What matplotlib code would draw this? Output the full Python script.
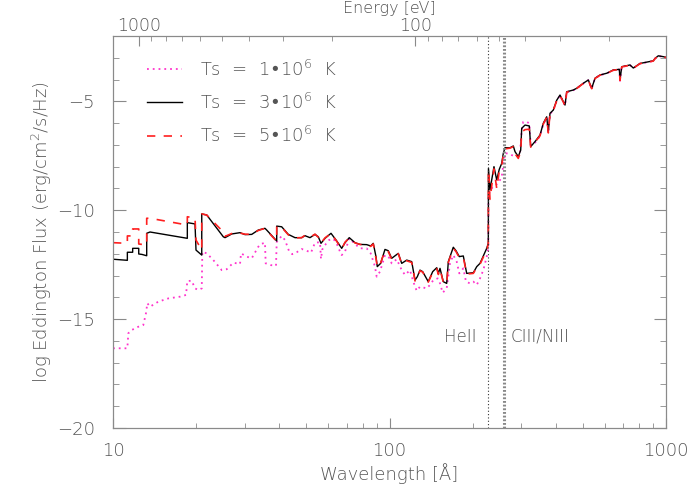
import matplotlib
matplotlib.use('Agg')
import matplotlib.pyplot as plt
from matplotlib.ticker import FuncFormatter, MultipleLocator, NullFormatter

# ---------------- data ----------------
# Ts = 1e6 K (dotted magenta)
lam_1e6 = [10.0, 11.27, 11.36, 11.69, 12.35, 12.87, 13.16, 13.31, 13.61, 14.58, 15.85, 17.47, 18.37,
           18.57, 19.26, 19.80, 20.35, 20.94, 21.04, 21.83, 23.06, 24.73, 25.78, 27.24, 28.80, 29.04,
           30.45, 31.74, 33.53, 34.01, 35.45, 35.66, 37.18, 38.86, 39.09, 40.74, 41.89, 43.30, 44.50,
           46.17, 48.12, 50.17, 52.00, 53.01, 53.77, 56.06, 56.52, 57.14, 58.46, 60.40, 62.63, 64.34,
           66.22, 67.16, 69.05, 71.53, 75.01, 78.19, 82.68, 85.49, 88.61, 89.87, 92.37, 96.30, 100.4,
           101.8, 106.2, 110.7, 113.8, 118.6, 121.9, 125.4, 128.9, 136.3, 140.1, 144.0, 149.4, 152.3,
           155.7, 161.0, 165.5, 170.1, 175.0, 178.8, 184.9, 189.1, 195.5, 201.0, 206.8, 212.5, 218.4,
           224.7, 227.7, 228.0, 230.9, 237.3, 247.5, 254.6, 258.0, 261.7, 268.9, 276.7, 288.4, 296.5,
           300.7, 304.7, 313.5, 320.3, 324.1, 335.9, 350.2, 359.9, 370.3, 375.3, 380.6, 391.2, 402.5,
           413.7, 431.3, 437.5, 462.2, 475.4, 502.3, 523.6, 538.6, 553.7, 577.2, 610.4, 644.9, 677.9,
           681.9, 691.6, 741.0, 761.7, 805.4, 899.6, 912.5, 937.9, 977.8, 1000.0]
flux_1e6 = [-16.34, -16.34, -15.65, -15.50, -15.35, -15.27, -14.73, -14.27, -14.43, -14.20, -14.05, -13.97, -13.89,
            -13.25, -13.24, -13.59, -13.66, -13.59, -11.91, -11.98, -12.29, -12.75, -12.71, -12.41, -12.47, -11.98,
            -12.13, -12.21, -11.68, -11.57, -11.49, -12.44, -12.52, -12.55, -11.46, -11.18, -11.37, -11.87, -12.02,
            -11.93, -11.78, -11.86, -11.95, -11.68, -11.49, -11.47, -12.24, -11.80, -11.60, -11.37, -11.31, -11.52,
            -11.90, -12.06, -11.90, -11.29, -11.55, -11.75, -11.75, -11.98, -12.59, -13.05, -12.82, -12.06, -12.21,
            -12.44, -12.25, -12.75, -12.97, -12.75, -13.28, -13.70, -13.51, -13.59, -13.43, -13.21, -13.13, -13.36,
            -13.79, -13.59, -12.44, -12.06, -12.36, -12.90, -12.67, -13.28, -13.36, -13.28, -13.43, -13.13, -12.75,
            -12.13, -11.75, -9.38, -9.07, -8.92, -8.76, -8.46, -7.92, -7.39, -7.39, -7.47, -7.54, -7.39,
            -6.32, -5.94, -5.94, -6.01, -7.01, -6.90, -6.60, -6.05, -5.75, -6.45, -5.58, -5.42, -4.97,
            -4.73, -5.20, -4.58, -4.49, -4.41, -4.18, -4.03, -4.42, -3.95, -3.80, -3.72, -3.57, -3.54,
            -4.06, -3.42, -3.34, -3.48, -3.27, -3.15, -3.04, -2.92, -2.96, -2.99]

# Ts = 3e6 K (solid black)
lam_3e6 = [10.0, 11.27, 11.27, 11.78, 11.78, 12.39, 12.39, 12.73, 13.24, 13.24, 13.61, 18.57, 18.57,
           19.80, 19.96, 20.94, 20.94, 21.83, 25.06, 25.42, 26.88, 28.80, 30.02, 31.74, 33.53, 35.45,
           35.96, 39.09, 39.09, 40.74, 43.05, 45.52, 48.12, 49.47, 51.57, 53.77, 55.27, 56.52, 58.46,
           61.44, 64.34, 67.16, 69.05, 71.53, 75.01, 78.19, 82.68, 85.49, 87.36, 89.35, 90.32, 92.90,
           96.30, 99.00, 101.8, 107.6, 110.7, 115.4, 120.3, 123.7, 126.1, 128.9, 131.8, 138.1, 143.3,
           148.2, 150.2, 152.3, 156.5, 161.0, 163.2, 170.1, 174.0, 178.8, 184.9, 190.2, 201.0, 206.8,
           212.5, 224.7, 227.7, 228.0, 230.9, 238.7, 244.2, 249.5, 254.6, 258.0, 261.7, 272.8, 280.4,
           284.4, 292.3, 298.2, 300.7, 309.1, 320.3, 324.1, 335.9, 350.2, 359.9, 370.3, 375.3, 380.6,
           391.2, 402.5, 413.7, 431.3, 437.5, 462.2, 475.4, 502.3, 523.6, 538.6, 553.7, 577.2, 610.4,
           644.9, 677.9, 681.9, 691.6, 741.0, 761.7, 805.4, 899.6, 912.5, 937.9, 977.8, 1000.0]
flux_3e6 = [-12.25, -12.30, -11.93, -11.93, -11.75, -11.75, -12.01, -12.03, -12.09, -11.06, -11.00, -11.29, -10.57,
            -10.63, -11.83, -12.06, -10.17, -10.22, -11.22, -11.26, -11.09, -11.03, -11.12, -11.11, -10.91, -10.83,
            -10.91, -11.41, -10.73, -10.76, -11.11, -11.26, -11.26, -11.17, -11.26, -11.11, -11.22, -11.52, -11.29,
            -11.06, -11.40, -11.75, -11.49, -11.26, -11.49, -11.57, -11.58, -11.64, -11.52, -12.13, -12.59, -12.44,
            -11.80, -11.86, -12.21, -11.98, -12.44, -12.29, -12.36, -13.21, -13.05, -12.75, -12.82, -13.28, -12.82,
            -12.64, -12.90, -12.67, -13.28, -13.36, -12.36, -11.70, -11.86, -12.13, -12.10, -12.90, -12.87, -12.59,
            -12.44, -11.75, -11.52, -8.08, -9.07, -8.00, -8.61, -8.12, -7.85, -7.39, -7.13, -7.13, -7.05,
            -7.31, -7.54, -7.24, -6.24, -6.09, -6.13, -7.08, -6.85, -6.55, -6.01, -5.71, -6.40, -5.55,
            -5.40, -4.95, -4.71, -5.17, -4.56, -4.48, -4.40, -4.17, -4.02, -4.40, -3.94, -3.79, -3.71,
            -3.56, -3.53, -4.02, -3.41, -3.33, -3.47, -3.26, -3.14, -3.03, -2.91, -2.95, -2.98]

# Ts = 5e6 K (dashed red)
lam_5e6 = [10.0, 11.27, 11.27, 11.78, 11.78, 12.39, 12.39, 13.24, 13.24, 13.61, 18.57, 18.57,
           19.80, 19.96, 20.94, 20.94, 21.83, 25.06, 25.42, 26.88, 28.80, 30.02, 31.74, 33.53, 35.45,
           35.96, 39.09, 39.09, 40.74, 43.05, 45.52, 48.12, 49.47, 51.57, 53.77, 55.27, 56.52, 58.46,
           61.44, 64.34, 67.16, 69.05, 71.53, 75.01, 78.19, 82.68, 85.49, 87.36, 89.35, 90.32, 92.90,
           96.30, 99.00, 101.8, 107.6, 110.7, 115.4, 120.3, 123.7, 126.1, 128.9, 131.8, 138.1, 143.3,
           148.2, 150.2, 152.3, 156.5, 161.0, 163.2, 170.1, 174.0, 178.8, 184.9, 190.2, 201.0, 206.8,
           212.5, 224.7, 227.7, 228.0, 230.9, 238.7, 244.2, 249.5, 254.6, 258.0, 261.7, 272.8, 280.4,
           284.4, 292.3, 298.2, 300.7, 309.1, 320.3, 324.1, 335.9, 350.2, 359.9, 370.3, 375.3, 380.6,
           391.2, 402.5, 413.7, 431.3, 437.5, 462.2, 475.4, 502.3, 523.6, 538.6, 553.7, 577.2, 610.4,
           644.9, 677.9, 681.9, 691.6, 741.0, 761.7, 805.4, 899.6, 912.5, 937.9, 977.8, 1000.0]
flux_5e6 = [-11.49, -11.52, -11.18, -11.18, -10.86, -10.86, -11.55, -11.60, -10.37, -10.37, -10.68, -10.30,
            -10.36, -11.37, -11.83, -10.17, -10.22, -11.00, -11.20, -11.07, -11.05, -11.10, -11.11, -10.93, -10.83,
            -10.93, -11.43, -10.73, -10.78, -11.13, -11.27, -11.26, -11.15, -11.24, -11.10, -11.24, -11.50, -11.27,
            -11.06, -11.42, -11.78, -11.47, -11.27, -11.50, -11.57, -11.60, -11.66, -11.55, -12.20, -12.62, -12.42,
            -11.84, -11.90, -12.25, -12.00, -12.46, -12.32, -12.40, -13.25, -13.08, -12.78, -12.84, -13.30, -12.86,
            -12.68, -12.95, -12.70, -13.31, -13.38, -12.40, -11.75, -11.90, -12.18, -12.16, -12.93, -12.90, -12.63,
            -12.48, -11.82, -11.56, -8.15, -9.50, -8.10, -9.00, -8.20, -7.95, -7.45, -7.18, -7.15, -7.08,
            -7.40, -7.62, -7.30, -6.40, -6.30, -6.28, -7.10, -6.88, -6.58, -6.05, -5.73, -6.45, -5.57,
            -5.42, -4.97, -4.73, -5.19, -4.58, -4.49, -4.41, -4.18, -4.03, -4.42, -3.95, -3.80, -3.72,
            -3.57, -3.54, -4.04, -3.42, -3.34, -3.48, -3.27, -3.15, -3.04, -2.92, -2.96, -2.99]

series_labels = ['Ts  =  1\u2022$10^6$  K', 'Ts  =  3\u2022$10^6$  K', 'Ts  =  5\u2022$10^6$  K']
edge_lams = [227.8, 259.4]
edge_labels = ['HeII', 'CIII/NIII']
hc = 12398.4  # eV * Angstrom

# ---------------- plot ----------------
TXT = '#555555'
SP = '#8a8a8a'
plt.rcParams['font.family'] = ['DejaVu Sans']
plt.rcParams['font.weight'] = 'light'
plt.rcParams['axes.labelweight'] = 'light'
plt.rcParams['mathtext.fontset'] = 'dejavusans'

fig = plt.figure(figsize=(7, 5), dpi=100)
ax = fig.add_axes([113/700, 1-428/500, 553/700, 392/500])

ax.plot(lam_1e6, flux_1e6, color='#ff33cc', ls=(0, (1, 2.2)), lw=1.3, label=series_labels[0])
ax.plot(lam_3e6, flux_3e6, color='black', ls='-', lw=1.0, label=series_labels[1])
ax.plot(lam_5e6, flux_5e6, color='#ff1f1f', ls=(0, (5, 5)), lw=1.2, label=series_labels[2])

ax.axvline(edge_lams[0], color='#333333', ls=(0, (1, 2)), lw=0.8)
ax.axvline(edge_lams[1], color='#888888', ls=(0, (0.6, 0.6)), lw=2.2)

ax.text(207, -15.82, edge_labels[0], ha='right', va='center', fontsize=12, color=TXT, fontweight='light')
ax.text(275, -15.82, edge_labels[1], ha='left', va='center', fontsize=12, color=TXT, fontweight='light')

ax.set_xscale('log')
ax.set_xlim(10, 1000)
ax.set_ylim(-20, -2)

fmt = FuncFormatter(lambda v, p: f'{v:g}')
ax.xaxis.set_major_formatter(fmt)
ax.xaxis.set_minor_formatter(NullFormatter())
ax.yaxis.set_major_locator(MultipleLocator(5))
ax.yaxis.set_minor_locator(MultipleLocator(1))

ax.tick_params(axis='both', which='both', direction='in', colors=SP, labelcolor=TXT, labelsize=13)
ax.tick_params(axis='y', which='both', left=True, right=True)
ax.tick_params(axis='y', which='major', length=9, pad=13)
ax.tick_params(axis='y', which='minor', length=4.5)
ax.tick_params(axis='x', which='both', top=False, bottom=True)
ax.tick_params(axis='x', which='major', length=7, pad=10)
ax.tick_params(axis='x', which='minor', length=3.5)
for s in ax.spines.values():
    s.set_color(SP)

ax.set_xlabel('Wavelength [Å]', fontsize=13, color=TXT, labelpad=2, fontweight='light')
ax.set_ylabel('log Eddington Flux (erg/cm$^2$/s/Hz)', fontsize=13, color=TXT, labelpad=2, fontweight='light')

ax2 = ax.twiny()
ax2.set_xscale('log')
ax2.set_xlim(hc/10, hc/1000)
ax2.xaxis.set_major_formatter(fmt)
ax2.xaxis.set_minor_formatter(NullFormatter())
ax2.tick_params(axis='x', which='both', direction='in', colors=SP, labelcolor=TXT, labelsize=12.5)
ax2.tick_params(axis='x', which='major', length=7, pad=1)
ax2.tick_params(axis='x', which='minor', length=3.5)
for s in ax2.spines.values():
    s.set_color(SP)
ax2.set_xlabel('Energy [eV]', fontsize=11.5, color=TXT, fontweight='light', va='top')
ax2.xaxis.set_label_coords(0.5, (499 - 72) / 392)

leg = ax.legend(loc='upper left', bbox_to_anchor=(0.062, 0.94), frameon=False, fontsize=13,
                handlelength=1.9, handletextpad=1.0, labelspacing=0.72, borderpad=0, borderaxespad=0)
for t in leg.get_texts():
    t.set_color(TXT)

fig.savefig('out.png', dpi=100)
